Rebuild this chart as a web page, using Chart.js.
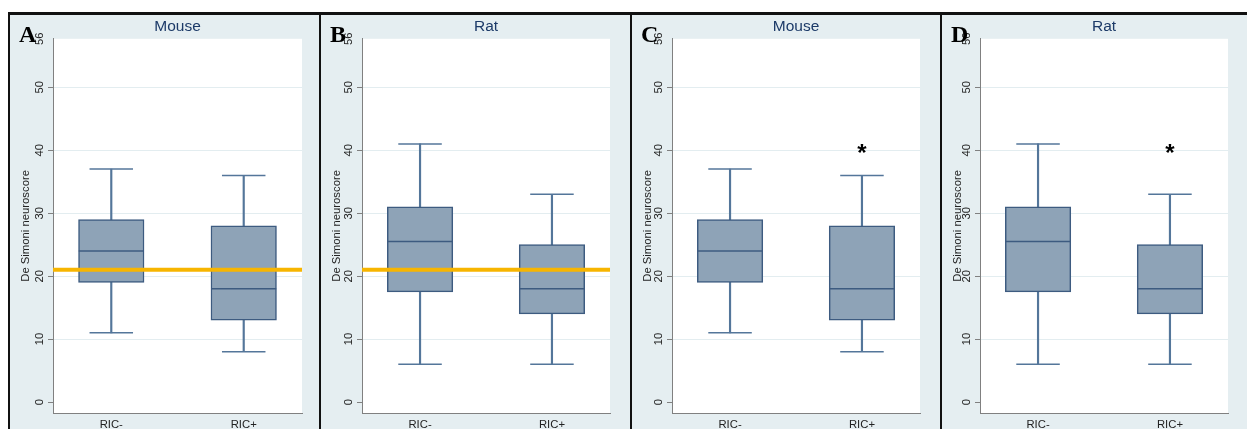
<!DOCTYPE html>
<html>
<head>
<meta charset="utf-8">
<script src="https://cdn.jsdelivr.net/npm/chart.js@4.4.1/dist/chart.umd.min.js"></script>
<style>
  body { margin: 0; background: #fff; }
  .panel { position: absolute; top: 12px; height: 417px; box-sizing: border-box;
           background: #e5eef1; border-left: 2px solid #111; border-top: 3px solid #111; }
  .panel canvas { position: absolute; left: 0; top: 0; }
</style>
</head>
<body>
<div id="wrap"></div>
<script>
// categories and box plot values (De Simoni neuroscore)
const CATEGORIES = ['RIC-', 'RIC+'];

const MOUSE_MIN = [11, 8];
const MOUSE_Q1 = [19, 13];
const MOUSE_MED = [24, 18];
const MOUSE_Q3 = [29, 28];
const MOUSE_MAX = [37, 36];

const RAT_MIN = [6, 6];
const RAT_Q1 = [17.5, 14];
const RAT_MED = [25.5, 18];
const RAT_Q3 = [31, 25];
const RAT_MAX = [41, 33];

const Y_TICKS = [0, 10, 20, 30, 40, 50];
const Y_TOP_LABEL = '56';
const REF_LINE = 21;          // orange reference line (panels A, B)
const STAR = [null, 40];      // significance marker (panels C, D)

// axis limits
const Y_MIN = -1.74, Y_MAX = 57.7;
const X_MIN = -0.44, X_MAX = 1.44;

const BOX_FILL = '#8ea3b7';
const BOX_LINE = '#3d5b80';
const WHISKER = '#54769a';

Chart.defaults.font.family = "'Liberation Sans', Arial, sans-serif";
Chart.defaults.animation = false;

const mouse = { min: MOUSE_MIN, q1: MOUSE_Q1, med: MOUSE_MED, q3: MOUSE_Q3, max: MOUSE_MAX };
const rat = { min: RAT_MIN, q1: RAT_Q1, med: RAT_MED, q3: RAT_Q3, max: RAT_MAX };

// panel layout: left border x, next border x, plot left/right (page px)
const panels = [
    { letter: 'A', title: 'Mouse', d: mouse, ref: true,  star: false, x: 8,   next: 319,  plotL: 53,  plotR: 302 },
    { letter: 'B', title: 'Rat',   d: rat,   ref: true,  star: false, x: 319, next: 630,  plotL: 362, plotR: 610 },
    { letter: 'C', title: 'Mouse', d: mouse, ref: false, star: true,  x: 630, next: 940,  plotL: 672, plotR: 920 },
    { letter: 'D', title: 'Rat',   d: rat,   ref: false, star: true,  x: 940, next: 1247, plotL: 980, plotR: 1228 }
];

const panelDecor = {
    id: 'panelDecor',
    beforeDraw(chart) {
        const a = chart.chartArea;
        const ctx = chart.ctx;
        ctx.save();
        ctx.fillStyle = '#fff';
        ctx.fillRect(a.left, a.top, a.right - a.left, a.bottom - a.top);
        ctx.restore();
    },
    afterDraw(chart, args, opts) {
        const ctx = chart.ctx;
        ctx.save();
        ctx.fillStyle = '#000';
        ctx.font = "bold 24px 'Liberation Serif', 'Times New Roman', serif";
        ctx.textBaseline = 'alphabetic';
        ctx.fillText(opts.letter, 9, 26.7);
        if (opts.star) {
            const xs = chart.scales.x, ys = chart.scales.y;
            ctx.font = "bold 24px 'Liberation Sans', Arial, sans-serif";
            ctx.textAlign = 'center';
            STAR.forEach((v, i) => {
                if (v == null) return;
                ctx.fillText('*', xs.getPixelForValue(i), ys.getPixelForValue(v) + 11);
            });
        }
        ctx.restore();
    }
};

const wrap = document.getElementById('wrap');

panels.forEach(p => {
    const div = document.createElement('div');
    div.className = 'panel';
    div.style.left = p.x + 'px';
    div.style.width = (p.next - p.x) + 'px';
    const canvas = document.createElement('canvas');
    const cw = p.next - p.x - 2;
    canvas.width = cw;
    canvas.height = 414;
    div.appendChild(canvas);
    wrap.appendChild(div);

    const canvasLeft = p.x + 2;
    const yAxisWidth = p.plotL - canvasLeft;
    const rightPad = p.next - p.plotR;
    const d = p.d;

    const datasets = [
        {
            type: 'bar',
            data: CATEGORIES.map((c, i) => ({ x: i, y: [d.min[i], d.max[i]] })),
            backgroundColor: WHISKER,
            barThickness: 1.5,
            grouped: false,
            order: 5
        },
        {
            type: 'bar',
            data: CATEGORIES.map((c, i) => ({ x: i, y: [d.q1[i], d.q3[i]] })),
            backgroundColor: BOX_FILL,
            borderColor: BOX_LINE,
            borderWidth: 1.5,
            borderSkipped: false,
            barThickness: 65.5,
            grouped: false,
            order: 4
        },
        {
            type: 'line',
            showLine: false,
            data: CATEGORIES.map((c, i) => ({ x: i, y: d.med[i] })),
            pointStyle: 'line',
            pointRadius: 32.5,
            borderColor: BOX_LINE,
            pointBorderWidth: 1.5,
            order: 3
        },
        {
            type: 'line',
            showLine: false,
            data: CATEGORIES.map((c, i) => ({ x: i, y: d.max[i] }))
                .concat(CATEGORIES.map((c, i) => ({ x: i, y: d.min[i] }))),
            pointStyle: 'line',
            pointRadius: 21.75,
            borderColor: WHISKER,
            pointBorderWidth: 1.5,
            order: 3
        }
    ];
    if (p.ref) {
        datasets.push({
            type: 'line',
            data: [{ x: X_MIN, y: REF_LINE }, { x: X_MAX, y: REF_LINE }],
            borderColor: '#f7b500',
            borderWidth: 4,
            pointRadius: 0,
            order: 1
        });
    }

    new Chart(canvas.getContext('2d'), {
        type: 'bar',
        data: { datasets },
        plugins: [panelDecor],
        options: {
            responsive: false,
            layout: { autoPadding: false, padding: { left: 0, right: rightPad, top: 0, bottom: 0 } },
            plugins: {
                legend: { display: false },
                tooltip: { enabled: false },
                title: {
                    display: true,
                    text: p.title,
                    fullSize: false,
                    color: '#1c3a68',
                    font: { size: 15.5, weight: 'normal' },
                    padding: { top: 2.6, bottom: 2.6 }
                },
                panelDecor: { letter: p.letter, star: p.star }
            },
            scales: {
                x: {
                    type: 'linear',
                    min: X_MIN,
                    max: X_MAX,
                    offset: false,
                    afterBuildTicks: s => { s.ticks = CATEGORIES.map((c, i) => ({ value: i })); },
                    afterFit: s => { s.height = 16; },
                    ticks: {
                        callback: v => CATEGORIES[v],
                        color: '#222',
                        font: { size: 11.3 },
                        padding: 5,
                        maxRotation: 0
                    },
                    grid: { display: false, drawTicks: false, offset: false },
                    border: { display: true, color: '#808080', width: 1 }
                },
                y: {
                    min: Y_MIN,
                    max: Y_MAX,
                    afterBuildTicks: s => {
                        s.ticks = Y_TICKS.map(v => ({ value: v })).concat([{ value: Y_MAX }]);
                    },
                    afterFit: s => { s.width = yAxisWidth; },
                    ticks: {
                        callback: v => (v === Y_MAX ? Y_TOP_LABEL : String(v)),
                        color: '#222',
                        font: { size: 11.3 },
                        padding: 1.5,
                        minRotation: 90,
                        maxRotation: 90,
                        crossAlign: 'center'
                    },
                    grid: {
                        color: c => (c.tick && (c.tick.value === 0 || c.tick.value === Y_MAX) ? 'rgba(0,0,0,0)' : '#e3edf0'),
                        tickColor: c => (c.tick && c.tick.value === Y_MAX ? 'rgba(0,0,0,0)' : '#808080'),
                        tickLength: 5,
                        lineWidth: 1
                    },
                    border: { display: true, color: '#808080', width: 1 },
                    title: {
                        display: true,
                        text: 'De Simoni neuroscore',
                        color: '#222',
                        font: { size: 11.3 },
                        padding: { top: 9, bottom: 0 }
                    }
                }
            }
        }
    });
});
</script>
</body>
</html>
